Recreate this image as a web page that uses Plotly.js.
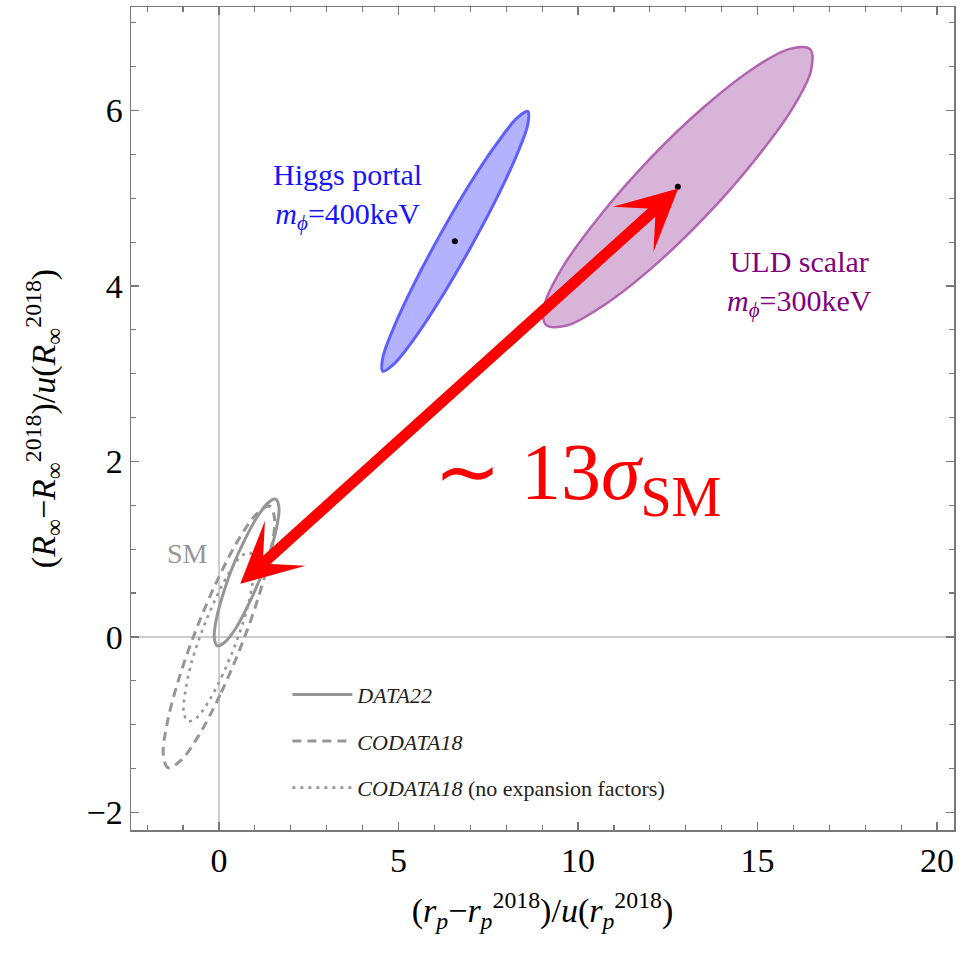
<!DOCTYPE html>
<html><head><meta charset="utf-8">
<script src="https://cdn.plot.ly/plotly-3.0.1.min.js"></script>
<style>body{margin:0;background:#fff}</style>
</head><body>
<div id="chart" style="width:962px;height:953px"></div>
<script>
// Contour outlines (x: (r_p - r_p^2018)/u, y: (R_inf - R_inf^2018)/u)
const higgsX = [6.98,6.18,5.44,4.87,4.56,4.56,4.87,5.44,6.18,6.98,7.73,8.29,8.60,8.60,8.29,7.72,6.98];
const higgsY = [4.42,3.86,3.40,3.11,3.03,3.18,3.53,4.03,4.60,5.16,5.62,5.91,5.99,5.84,5.49,4.99,4.42];
const uldX = [13.59,12.12,10.75,9.69,9.10,9.07,9.61,10.63,11.98,13.45,14.81,15.87,16.46,16.49,15.95,14.93,13.59];
const uldY = [4.81,4.23,3.79,3.55,3.56,3.79,4.24,4.81,5.44,6.02,6.46,6.70,6.70,6.46,6.01,5.44,4.81];
const data22X = [1.15,0.81,0.47,0.16,-0.05,-0.13,-0.08,0.10,0.38,0.72,1.07,1.37,1.58,1.67,1.62,1.44,1.15];
const data22Y = [0.67,0.36,0.10,-0.06,-0.10,-0.01,0.19,0.47,0.80,1.11,1.37,1.53,1.57,1.48,1.28,0.99,0.67];
const codata18X = [0.62,0.03,-0.56,-1.07,-1.42,-1.55,-1.44,-1.12,-0.62,-0.03,0.56,1.07,1.42,1.55,1.44,1.12,0.62];
const codata18Y = [-0.10,-0.66,-1.12,-1.41,-1.49,-1.34,-0.98,-0.48,0.10,0.66,1.12,1.41,1.49,1.34,0.98,0.48,-0.10];
const noExpX = [0.47,0.10,-0.28,-0.62,-0.86,-0.98,-0.94,-0.77,-0.47,-0.10,0.28,0.62,0.86,0.98,0.94,0.77,0.47];
const noExpY = [-0.07,-0.43,-0.73,-0.92,-0.96,-0.86,-0.63,-0.30,0.07,0.43,0.73,0.92,0.96,0.86,0.63,0.30,-0.07];

// best-fit points
const bestFitX = [6.57, 12.78];
const bestFitY = [4.51, 5.13];

// arrow from SM to ULD best fit
const arrowFrom = [0.55, 0.59];
const arrowTo = [12.79, 5.11];

// axis ticks
const xTicks = [0, 5, 10, 15, 20];
const yTicks = [-2, 0, 2, 4, 6];

const serif = 'Liberation Serif, Times New Roman, serif';
const gray = 'rgb(150,150,150)';

const traces = [
  {x: higgsX, y: higgsY, type: 'scatter', mode: 'lines', fill: 'toself',
   fillcolor: 'rgb(178,178,255)', line: {color: 'rgb(95,95,255)', width: 3, shape: 'spline', smoothing: 1},
   showlegend: false, hoverinfo: 'skip'},
  {x: uldX, y: uldY, type: 'scatter', mode: 'lines', fill: 'toself',
   fillcolor: 'rgb(216,180,216)', line: {color: 'rgb(178,100,178)', width: 2.5, shape: 'spline', smoothing: 1},
   showlegend: false, hoverinfo: 'skip'},
  {x: data22X, y: data22Y, type: 'scatter', mode: 'lines', name: '<i>DATA22</i>', legendgroup: 'a',
   line: {color: gray, width: 3, shape: 'spline', smoothing: 1}},
  {x: codata18X, y: codata18Y, type: 'scatter', mode: 'lines', name: '<i>CODATA18</i>', legendgroup: 'b',
   line: {color: gray, width: 3, dash: '9px,6px', shape: 'spline', smoothing: 1}},
  {x: noExpX, y: noExpY, type: 'scatter', mode: 'lines', name: '<i>CODATA18</i> (no expansion factors)', legendgroup: 'c',
   line: {color: gray, width: 2.6, dash: '3px,5px', shape: 'spline', smoothing: 1}},
  {x: bestFitX, y: bestFitY, type: 'scatter', mode: 'markers',
   marker: {color: 'black', size: 6}, showlegend: false, hoverinfo: 'skip'}
];

const axisCommon = {
  showgrid: false, zeroline: true, zerolinecolor: 'rgb(205,205,205)', zerolinewidth: 1.5,
  showline: true, linecolor: 'rgb(120,120,120)', linewidth: 1.5, mirror: 'allticks',
  ticks: 'inside', ticklen: 8, tickwidth: 1.3, tickcolor: 'rgb(120,120,120)',
  tickfont: {family: serif, size: 34, color: 'black'}
};

const layout = {
  width: 962, height: 953,
  margin: {l: 131, r: 8, t: 7, b: 123},
  paper_bgcolor: 'white', plot_bgcolor: 'white',
  showlegend: true,
  legend: {x: 0.19, y: 0.19, xanchor: 'left', yanchor: 'top', bgcolor: 'rgba(0,0,0,0)',
           font: {family: serif, size: 22, color: '#222'}, tracegroupgap: 15, traceorder: 'grouped',
           itemwidth: 60},
  xaxis: Object.assign({}, axisCommon, {
    range: [-2.45, 20.47], tickvals: xTicks, ticktext: xTicks.map(String),
    minor: {dtick: 1, ticks: 'inside', ticklen: 5, tickcolor: 'rgb(120,120,120)', tickwidth: 1.2, showgrid: false},
    title: {text: '(<i>r</i><sub><i>p</i></sub>−<i>r</i><sub><i>p</i></sub><sup>2018</sup>)/<i>u</i>(<i>r</i><sub><i>p</i></sub><sup>2018</sup>)',
            font: {family: serif, size: 34, color: 'black'}, standoff: 20}
  }),
  yaxis: Object.assign({}, axisCommon, {
    range: [-2.2, 7.18], tickvals: yTicks, ticktext: yTicks.map(v => v < 0 ? '−' + Math.abs(v) : String(v)),
    minor: {dtick: 0.5, ticks: 'inside', ticklen: 5, tickcolor: 'rgb(120,120,120)', tickwidth: 1.2, showgrid: false},
    title: {text: '(<i>R</i><sub>∞</sub>−<i>R</i><sub>∞</sub><sup>2018</sup>)/<i>u</i>(<i>R</i><sub>∞</sub><sup>2018</sup>)',
            font: {family: serif, size: 34, color: 'black'}, standoff: 20}
  }),
  annotations: [
    {x: arrowTo[0], y: arrowTo[1], ax: arrowFrom[0], ay: arrowFrom[1], xref: 'x', yref: 'y', axref: 'x', ayref: 'y',
     text: '', showarrow: true, arrowcolor: 'rgb(255,0,0)', arrowwidth: 11, arrowhead: 3, arrowsize: 0.92,
     arrowside: 'end+start', startarrowhead: 3, startarrowsize: 0.92, standoff: 0, startstandoff: 0},
    {x: 9.98, y: 1.81, xref: 'x', yref: 'y', showarrow: false,
     text: '∼&nbsp;13<i>σ</i><sub>SM</sub>', font: {family: serif, size: 80, color: 'rgb(255,0,0)'}},
    {x: 3.585, y: 5.02, xref: 'x', yref: 'y', showarrow: false, align: 'center',
     text: 'Higgs portal<br><i>m</i><sub><i>ϕ</i></sub>=400keV', font: {family: serif, size: 30, color: 'rgb(20,20,255)'}},
    {x: 16.18, y: 4.03, xref: 'x', yref: 'y', showarrow: false, align: 'center',
     text: 'ULD scalar<br><i>m</i><sub><i>ϕ</i></sub>=300keV', font: {family: serif, size: 30, color: 'rgb(128,0,128)'}},
    {x: -0.88, y: 0.955, xref: 'x', yref: 'y', showarrow: false,
     text: 'SM', font: {family: serif, size: 28, color: 'rgb(150,150,150)'}}
  ]
};

Plotly.newPlot('chart', traces, layout, {displayModeBar: false, staticPlot: true});
</script>
</body></html>
